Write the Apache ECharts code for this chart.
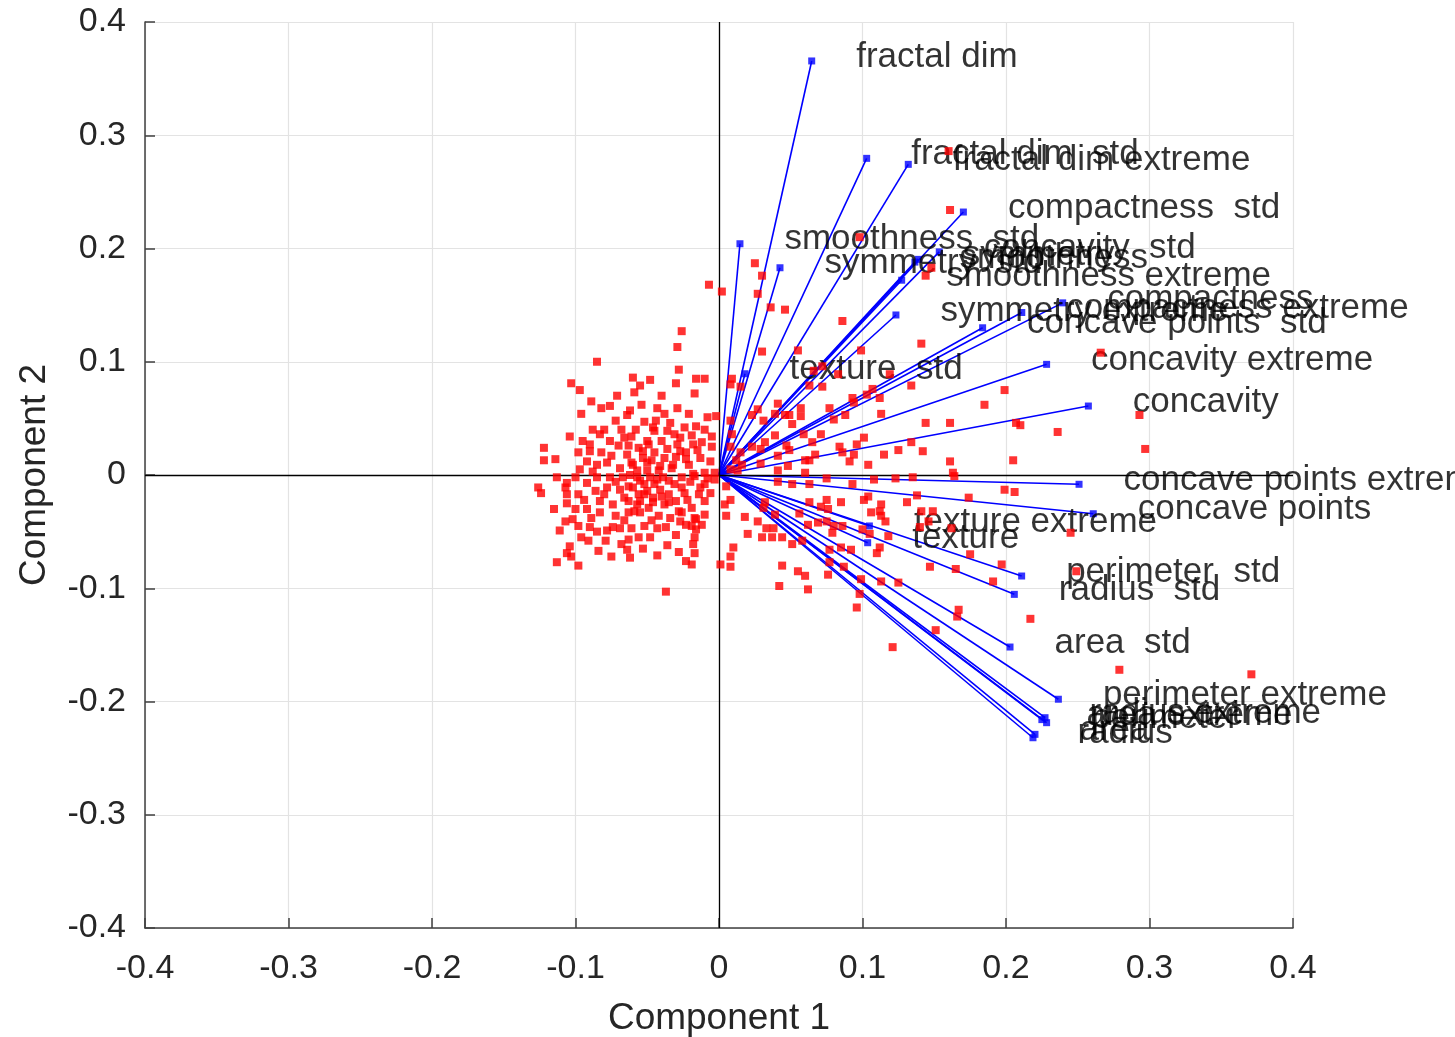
<!DOCTYPE html>
<html>
<head>
<meta charset="utf-8">
<title>Biplot</title>
<script src="https://cdn.jsdelivr.net/npm/echarts@6/dist/echarts.min.js"></script>
<style>
  html, body { margin: 0; padding: 0; background: #fff; }
  #biplot-echarts { width: 1455px; height: 1037px; }
</style>
</head>
<body>
<div id="biplot-echarts"></div>
<script>
// variable names (loadings)
var featureNames = [
  "radius", "texture", "perimeter", "area", "smoothness",
  "compactness", "concavity", "concave points", "symmetry", "fractal dim",
  "radius  std", "texture  std", "perimeter  std", "area  std", "smoothness  std",
  "compactness  std", "concavity  std", "concave points  std", "symmetry  std", "fractal dim  std",
  "radius extreme", "texture extreme", "perimeter extreme", "area extreme", "smoothness extreme",
  "compactness extreme", "concavity extreme", "concave points extreme", "symmetry extreme", "fractal dim extreme"
];
var loadX = [
  0.2188, 0.1036, 0.2283, 0.2202, 0.1365,
  0.2395, 0.2574, 0.2608, 0.1389, 0.0646,
  0.2058, 0.0181, 0.2109, 0.2028, 0.0146,
  0.1703, 0.1535, 0.1837, 0.0425, 0.1029,
  0.2272, 0.1048, 0.2365, 0.2250, 0.1273,
  0.2110, 0.2283, 0.2509, 0.1233, 0.1319
];
var loadY = [
  -0.2320, -0.0598, -0.2187, -0.2290, 0.1880,
  0.1520, 0.0609, -0.0342, 0.1904, 0.3656,
  -0.1054, 0.0894, -0.0892, -0.1519, 0.2042,
  0.2322, 0.1970, 0.1300, 0.1830, 0.2796,
  -0.2143, -0.0450, -0.1980, -0.2160, 0.1720,
  0.1435, 0.0977, -0.0082, 0.1413, 0.2743
];

// observations (scores)
var obsScores = [
  [-0.007,0.168],[0.002,0.162],[-0.026,0.127],[-0.029,0.113],[-0.028,0.093],[-0.030,0.081],
  [-0.048,0.084],[-0.016,0.085],[-0.010,0.085],[-0.017,0.072],[-0.055,0.079],[-0.059,0.073],
  [-0.054,0.062],[-0.062,0.057],[-0.043,0.059],[-0.038,0.054],[-0.029,0.059],[-0.021,0.054],
  [-0.008,0.051],[-0.002,0.052],[-0.052,0.047],[-0.046,0.042],[-0.036,0.039],[-0.031,0.036],
  [-0.024,0.042],[-0.016,0.043],[-0.005,0.034],[-0.012,0.029],[-0.005,0.025],[-0.061,0.034],
  [-0.063,0.026],[-0.056,0.024],[-0.049,0.027],[-0.040,0.030],[-0.029,0.027],[-0.023,0.020],
  [-0.021,0.009],[-0.038,0.015],[-0.045,0.020],[-0.053,0.015],[-0.061,0.011],[-0.033,0.006],
  [-0.042,0.004],[-0.050,0.004],[-0.057,0.004],[-0.010,0.002],[-0.003,0.002],[-0.017,-0.001],
  [-0.026,-0.002],[-0.035,-0.005],[-0.045,-0.008],[-0.055,-0.005],[-0.063,-0.010],[-0.010,-0.008],
  [-0.006,-0.016],[-0.014,-0.017],[-0.024,-0.016],[-0.035,-0.017],[-0.046,-0.020],[-0.056,-0.017],
  [-0.063,-0.023],[-0.010,-0.023],[-0.019,-0.029],[-0.028,-0.032],[-0.038,-0.026],[-0.049,-0.029],
  [-0.059,-0.032],[-0.042,-0.036],[-0.034,-0.038],[-0.027,-0.041],[-0.019,-0.045],[-0.016,-0.039],
  [-0.012,-0.044],[-0.052,-0.045],[-0.061,-0.047],[-0.056,-0.055],[-0.048,-0.055],[-0.063,-0.057],
  [-0.017,-0.055],[-0.018,-0.061],[-0.064,-0.066],[-0.043,-0.071],[-0.017,-0.069],[-0.023,-0.076],
  [-0.019,-0.079],[0.001,-0.079],[-0.037,-0.103],[0.004,-0.026],
  [-0.085,0.100],[-0.103,0.081],[-0.096,0.054],[-0.082,0.059],[-0.076,0.061],[-0.104,0.034],
  [-0.122,0.024],[-0.122,0.013],[-0.114,0.014],[-0.126,-0.011],[-0.124,-0.016],[-0.064,0.053],
  [-0.080,0.040],[-0.083,0.036],[-0.068,0.040],[-0.076,0.030],[-0.090,0.027],[-0.090,0.021],
  [-0.082,0.020],[-0.070,0.026],[-0.045,0.039],[-0.050,0.030],[-0.053,0.021],[-0.036,0.023],
  [-0.027,0.021],[-0.018,0.027],[-0.013,0.015],[-0.092,0.012],[-0.085,0.009],[-0.078,0.011],
  [-0.069,0.006],[-0.060,0.009],[-0.050,0.011],[-0.041,0.008],[-0.032,0.009],[-0.023,0.014],
  [-0.097,0.005],[-0.100,-0.002],[-0.106,-0.007],[-0.092,-0.007],[-0.085,-0.002],[-0.076,-0.002],
  [-0.067,-0.002],[-0.057,-0.002],[-0.048,-0.002],[-0.039,-0.002],[-0.018,0.001],[-0.106,-0.017],
  [-0.098,-0.017],[-0.086,-0.014],[-0.078,-0.011],[-0.069,-0.013],[-0.060,-0.011],[-0.050,-0.014],
  [-0.041,-0.013],[-0.026,-0.011],[-0.013,-0.011],[-0.106,-0.025],[-0.092,-0.030],[-0.083,-0.023],
  [-0.074,-0.026],[-0.055,-0.023],[-0.046,-0.024],[-0.035,-0.024],[-0.107,-0.041],[-0.102,-0.039],
  [-0.098,-0.045],[-0.089,-0.038],[-0.083,-0.033],[-0.072,-0.036],[-0.063,-0.033],[-0.055,-0.033],
  [-0.026,-0.033],[-0.017,-0.038],[-0.111,-0.049],[-0.090,-0.046],[-0.078,-0.049],[-0.069,-0.047],
  [-0.043,-0.047],[-0.023,-0.044],[-0.016,-0.048],[-0.091,-0.058],[-0.079,-0.058],[-0.068,-0.061],
  [-0.104,-0.063],[-0.075,-0.072],[-0.113,-0.077],[-0.106,-0.069],[-0.103,-0.072],[-0.107,-0.011],
  [-0.095,0.030],[-0.088,0.040],[-0.072,0.048],[-0.066,0.033],[-0.058,0.040],[-0.044,0.048],
  [-0.034,0.046],[-0.027,0.033],[-0.019,0.035],[-0.010,0.040],[-0.098,0.020],[-0.075,0.017],
  [-0.064,0.018],[-0.047,0.013],[-0.030,0.016],[-0.015,0.022],[-0.006,0.012],[-0.113,-0.002],
  [-0.088,0.003],[-0.072,-0.006],[-0.062,0.000],[-0.052,-0.008],[-0.043,-0.004],[-0.031,-0.008],
  [-0.020,-0.006],[-0.008,-0.003],[-0.115,-0.030],[-0.100,-0.030],[-0.094,-0.022],[-0.080,-0.017],
  [-0.066,-0.020],[-0.057,-0.026],[-0.052,-0.017],[-0.040,-0.019],[-0.030,-0.023],[-0.022,-0.022],
  [-0.096,-0.055],[-0.085,-0.050],[-0.074,-0.046],[-0.066,-0.040],[-0.047,-0.040],[-0.037,-0.046],
  [-0.030,-0.053],[-0.010,-0.035],[-0.084,-0.067],[-0.062,-0.073],[-0.053,-0.065],[-0.036,-0.062],
  [-0.028,-0.068],[-0.098,-0.080],[-0.071,0.070],[-0.060,0.086],[-0.040,0.070],[-0.089,0.065],
  [-0.097,0.075],
  [0.025,0.187],[0.030,0.176],[0.027,0.160],[0.036,0.148],[0.046,0.146],[0.086,0.136],
  [0.030,0.109],[0.055,0.110],[0.099,0.110],[0.066,0.092],[0.072,0.096],[0.083,0.089],
  [0.063,0.079],[0.072,0.078],[0.009,0.085],[0.008,0.080],[0.015,0.078],[0.119,0.089],
  [0.134,0.079],[0.107,0.076],[0.103,0.071],[0.112,0.068],[0.093,0.068],[0.094,0.064],
  [0.077,0.059],[0.088,0.053],[0.080,0.049],[0.113,0.054],[0.027,0.058],[0.041,0.063],
  [0.023,0.053],[0.039,0.054],[0.046,0.053],[0.049,0.053],[0.057,0.059],[0.057,0.052],
  [0.031,0.048],[0.008,0.048],[0.009,0.036],[0.008,0.025],[0.051,0.045],[0.039,0.035],
  [0.059,0.036],[0.071,0.036],[0.065,0.029],[0.101,0.033],[0.096,0.027],[0.134,0.029],
  [0.125,0.022],[0.032,0.029],[0.023,0.025],[0.029,0.023],[0.047,0.026],[0.049,0.022],
  [0.084,0.025],[0.086,0.020],[0.091,0.012],[0.094,0.018],[0.115,0.018],[0.104,0.009],
  [0.067,0.018],[0.060,0.013],[0.063,0.013],[0.041,0.017],[0.029,0.010],[0.048,0.008],
  [0.015,0.020],[0.012,0.013],[0.016,0.009],[0.008,0.005],[0.013,0.004],[0.041,0.004],
  [0.060,0.002],[-0.003,-0.004],[0.005,-0.010],[0.041,-0.006],[0.051,-0.008],[0.063,-0.008],
  [0.075,-0.003],[0.093,-0.008],[0.108,-0.004],[0.123,-0.003],[0.135,-0.002],[0.008,-0.022],
  [0.005,-0.036],[0.018,-0.037],[0.032,-0.024],[0.031,-0.029],[0.039,-0.035],[0.056,-0.034],
  [0.063,-0.024],[0.071,-0.028],[0.075,-0.022],[0.076,-0.030],[0.085,-0.024],[0.101,-0.022],
  [0.104,-0.019],[0.113,-0.026],[0.112,-0.032],[0.106,-0.033],[0.113,-0.036],[0.116,-0.041],
  [0.131,-0.024],[0.027,-0.041],[0.033,-0.047],[0.038,-0.047],[0.020,-0.052],[0.030,-0.055],
  [0.037,-0.055],[0.044,-0.055],[0.058,-0.058],[0.062,-0.044],[0.069,-0.042],[0.075,-0.041],
  [0.080,-0.045],[0.079,-0.051],[0.086,-0.045],[0.100,-0.048],[0.105,-0.052],[0.118,-0.054],
  [0.051,-0.061],[0.010,-0.064],[0.008,-0.072],[0.077,-0.066],[0.085,-0.064],[0.092,-0.066],
  [0.112,-0.064],[0.110,-0.069],[0.008,-0.081],[0.044,-0.080],[0.077,-0.077],[0.087,-0.081],
  [0.055,-0.085],[0.060,-0.089],[0.076,-0.088],[0.099,-0.092],[0.113,-0.094],[0.125,-0.095],
  [0.042,-0.098],[0.062,-0.101],[0.098,-0.105],[0.096,-0.117],[0.121,-0.152],
  [0.185,0.062],[0.207,0.046],[0.210,0.044],[0.236,0.038],[0.205,0.013],[0.161,0.012],
  [0.163,0.002],[0.164,-0.001],[0.199,-0.013],[0.206,-0.015],[0.174,-0.020],[0.245,-0.051],
  [0.197,-0.079],[0.191,-0.094],[0.165,-0.083],[0.167,-0.119],[0.166,-0.125],[0.217,-0.127],
  [0.151,-0.137],[0.144,0.046],[0.161,0.046],[0.142,0.021],[0.138,-0.018],[0.175,-0.070],
  [0.147,-0.081],[0.141,-0.032],[0.149,-0.032],[0.140,-0.046],[0.162,-0.047],[0.266,0.108],
  [0.199,0.075],[0.293,0.053],[0.297,0.023],[0.146,-0.041],[0.249,-0.085],[0.279,-0.172],
  [0.371,-0.176],[0.160,0.286],[0.161,0.234],[0.148,0.183],[0.144,0.176],[0.141,0.116],
  [0.098,0.210]
];

var fontFamily = 'Arial, "Liberation Sans", Helvetica, sans-serif';
var axisColor = "#404040";

function initEcharts() {
  var vectorLines = featureNames.map(function(name, i) {
    return { coords: [[0, 0], [loadX[i], loadY[i]]] };
  });
  var vectorEnds = featureNames.map(function(name, i) {
    return { name: name, value: [loadX[i], loadY[i]] };
  });

  var axisCommon = {
    type: "value",
    min: -0.4,
    max: 0.4,
    interval: 0.1,
    axisLine: { onZero: false, lineStyle: { color: axisColor, width: 1.5 } },
    axisTick: { inside: true, length: 10, lineStyle: { color: axisColor, width: 1.5 } },
    axisLabel: {
      color: "#262626",
      fontSize: 34,
      fontFamily: fontFamily,
      formatter: function(v) { return String(+v.toFixed(1)); }
    },
    splitLine: { show: true, lineStyle: { color: "#e3e3e3", width: 1.2 } },
    nameLocation: "middle",
    nameTextStyle: { color: "#262626", fontSize: 37, fontFamily: fontFamily }
  };

  var option = {
    animation: false,
    backgroundColor: "#fff",
    grid: { left: 145, right: 162, top: 22, bottom: 109, outerBoundsMode: "none" },
    xAxis: Object.assign({}, axisCommon, {
      name: "Component 1",
      nameGap: 72,
      axisLabel: Object.assign({}, axisCommon.axisLabel, { margin: 24 })
    }),
    yAxis: Object.assign({}, axisCommon, {
      name: "Component 2",
      nameGap: 92,
      axisLabel: Object.assign({}, axisCommon.axisLabel, { margin: 19 })
    }),
    series: [
      {
        // axes through the origin
        type: "scatter",
        data: [],
        silent: true,
        markLine: {
          silent: true,
          symbol: ["none", "none"],
          label: { show: false },
          lineStyle: { color: "#000", width: 1.3, type: "solid" },
          data: [{ xAxis: 0 }, { yAxis: 0 }]
        }
      },
      {
        name: "vectors",
        type: "lines",
        coordinateSystem: "cartesian2d",
        silent: true,
        lineStyle: { color: "#0000ff", width: 1.6, opacity: 1 },
        data: vectorLines,
        z: 3
      },
      {
        name: "variables",
        type: "scatter",
        symbol: "rect",
        symbolSize: 7,
        itemStyle: { color: "#0000ff" },
        label: {
          show: true,
          position: "right",
          distance: 41,
          offset: [0, -4],
          formatter: "{b}",
          color: "#000",
          fontSize: 35,
          fontFamily: fontFamily
        },
        data: vectorEnds,
        z: 4
      },
      {
        name: "observations",
        type: "scatter",
        symbol: "rect",
        symbolSize: 8,
        itemStyle: { color: "#ff0000" },
        data: obsScores,
        z: 5
      }
    ]
  };

  var myChart = echarts.init(document.getElementById("biplot-echarts"));
  myChart.setOption(option);
}

initEcharts();
</script>
</body>
</html>
